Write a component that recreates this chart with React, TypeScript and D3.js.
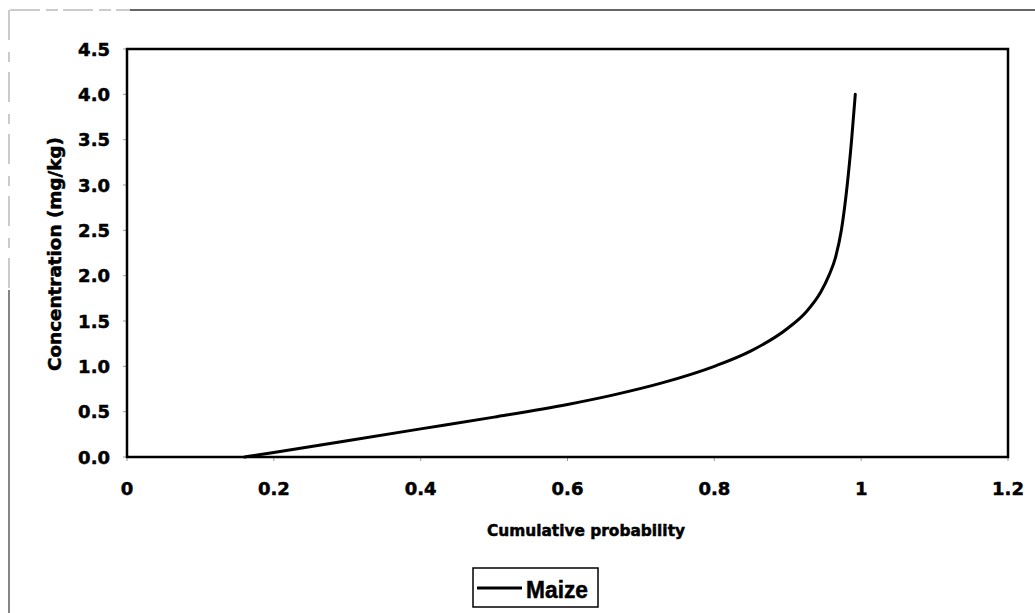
import * as d3 from "d3";

const probability = [0.16, 0.2, 0.3, 0.4, 0.5, 0.6, 0.66, 0.73, 0.8, 0.85, 0.9, 0.925, 0.945, 0.956, 0.965, 0.973, 0.981, 0.987, 0.992];
const concentration = [0, 0.05, 0.18, 0.31, 0.44, 0.58, 0.68, 0.82, 1.0, 1.17, 1.42, 1.6, 1.82, 2.0, 2.2, 2.5, 3.0, 3.5, 4.0];
const xTicks = [0, 0.2, 0.4, 0.6, 0.8, 1, 1.2];
const yTicks = [0, 0.5, 1, 1.5, 2, 2.5, 3, 3.5, 4, 4.5];
const seriesName = "Maize";

const width = 1035;
const height = 613;
const margin = { left: 127, right: 1008, top: 49, bottom: 457 };
const tickFont = "'DejaVu Sans', Arial, sans-serif";
const font = "'Liberation Sans', Arial, sans-serif";

// scanned text looks heavier than plain bold
const heavy = { stroke: "#000", strokeWidth: 0.5 };

export default function App() {
  const x = d3.scaleLinear().domain([0, 1.2]).range([margin.left, margin.right]);
  const y = d3.scaleLinear().domain([0, 4.5]).range([margin.bottom, margin.top]);

  const points = probability.map((p, i) => [p, concentration[i]] as [number, number]);
  const line = d3
    .line<[number, number]>()
    .x((d) => x(d[0]))
    .y((d) => y(d[1]))
    .curve(d3.curveMonotoneX);

  return (
    <svg
      width={width}
      height={height}
      style={{ position: "absolute", left: 0, top: 0, background: "#fff" }}
    >
      {/* scanned page frame */}
      <line x1={10} y1={10} x2={130} y2={10} stroke="#999" strokeWidth={1.2} strokeDasharray="30 6 12 5" />
      <line x1={130} y1={10} x2={width} y2={10} stroke="#333" strokeWidth={1.5} />
      <line x1={9} y1={10} x2={9} y2={290} stroke="#aaa" strokeWidth={1.2} strokeDasharray="30 12 10 10" />
      <line x1={9} y1={290} x2={9} y2={height} stroke="#444" strokeWidth={1.3} />

      {/* ticks */}
      {yTicks.map((t) => (
        <g key={"y" + t}>
          <line x1={margin.left - 4} x2={margin.left} y1={y(t)} y2={y(t)} stroke="#999" strokeWidth={1} />
          <text
            x={110}
            y={y(t)}
            textAnchor="end"
            dominantBaseline="central"
            fontFamily={tickFont}
            fontWeight="bold"
            fontSize={18}
            {...heavy}
          >
            {t.toFixed(1)}
          </text>
        </g>
      ))}
      {xTicks.map((t) => (
        <g key={"x" + t}>
          <line x1={x(t)} x2={x(t)} y1={margin.bottom} y2={margin.bottom + 4} stroke="#999" strokeWidth={1} />
          <text
            x={x(t)}
            y={488}
            textAnchor="middle"
            dominantBaseline="central"
            fontFamily={tickFont}
            fontWeight="bold"
            fontSize={18}
            {...heavy}
          >
            {String(t)}
          </text>
        </g>
      ))}

      {/* plot frame */}
      <rect
        x={margin.left}
        y={margin.top}
        width={margin.right - margin.left}
        height={margin.bottom - margin.top}
        fill="none"
        stroke="#000"
        strokeWidth={2.5}
      />

      <path d={line(points) ?? ""} fill="none" stroke="#000" strokeWidth={3} strokeLinecap="round" />

      {/* axis titles */}
      <text
        x={586}
        y={530}
        textAnchor="middle"
        dominantBaseline="central"
        fontFamily={tickFont}
        fontWeight="bold"
        fontSize={16}
        textLength={198}
        lengthAdjust="spacingAndGlyphs"
        {...heavy}
      >
        Cumulative probability
      </text>
      <text
        transform={`translate(55,254) rotate(-90)`}
        textAnchor="middle"
        dominantBaseline="central"
        fontFamily={tickFont}
        fontWeight="bold"
        fontSize={17}
        textLength={234}
        lengthAdjust="spacingAndGlyphs"
        {...heavy}
      >
        Concentration (mg/kg)
      </text>

      {/* legend */}
      <rect x={473} y={568} width={125} height={39} fill="#fff" stroke="#000" strokeWidth={1.5} />
      <line x1={477} x2={522} y1={588} y2={588} stroke="#000" strokeWidth={3} />
      <text
        x={526}
        y={589}
        dominantBaseline="central"
        fontFamily={font}
        fontWeight="bold"
        fontSize={24}
        textLength={62}
        lengthAdjust="spacingAndGlyphs"
        {...heavy}
      >
        {seriesName}
      </text>
    </svg>
  );
}
